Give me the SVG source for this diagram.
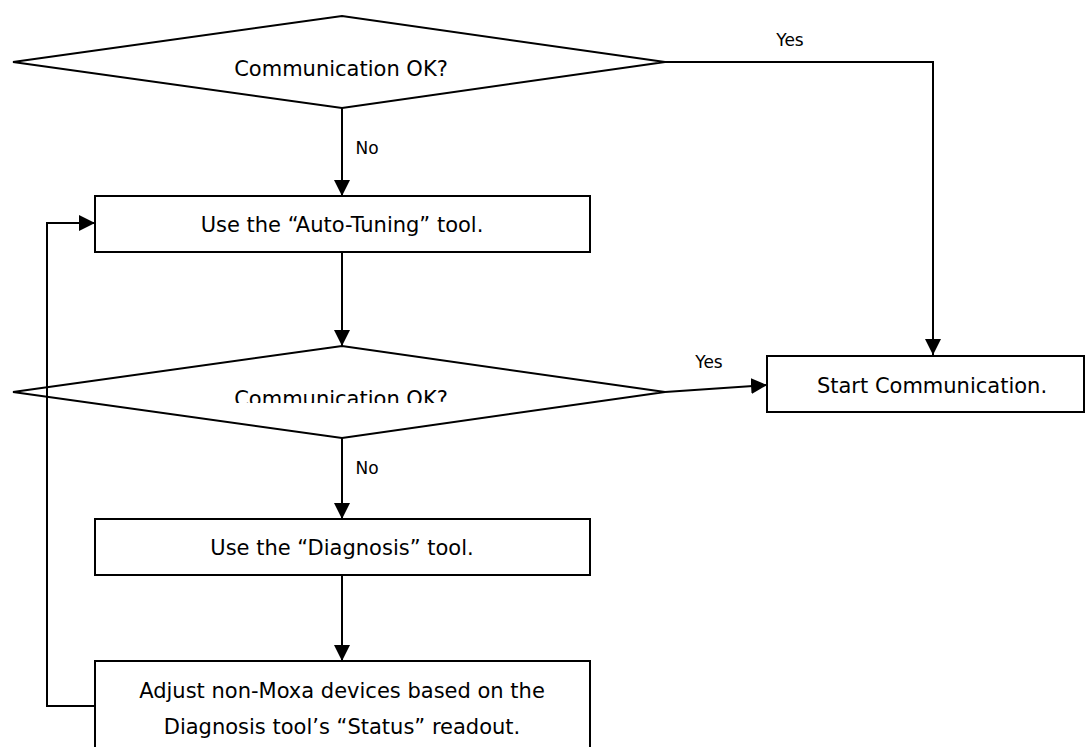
<svg xmlns="http://www.w3.org/2000/svg" width="1087" height="747" viewBox="0 0 1087 747">
<style>
.shape{fill:#fff;stroke:#000;stroke-width:2}
.t{font-family:"DejaVu Sans",Verdana,sans-serif;font-size:21px;fill:#000;text-anchor:middle}
.lbl{font-family:"DejaVu Sans",Verdana,sans-serif;font-size:17px;fill:#000;text-anchor:middle}
.c{fill:none;stroke:#000;stroke-width:2}
</style>
<defs>
<marker id="ah" markerUnits="userSpaceOnUse" markerWidth="16" markerHeight="16" viewBox="0 0 16 16" refX="16" refY="8" orient="auto">
<path d="M0,0 L16,8 L0,16 Z" fill="#000"/>
</marker>
<clipPath id="clipD2"><rect x="0" y="340" width="700" height="63"/></clipPath>
</defs>
<g id="decision1">
<polygon class="shape" points="13,62 342,16 665,62 342,108"/>
<text class="t" x="341" y="76">Communication OK?</text>
</g>
<g id="autotune">
<rect class="shape" x="95" y="196" width="495" height="56"/>
<text class="t" x="342" y="232">Use the “Auto-Tuning” tool.</text>
</g>
<g id="decision2">
<polygon class="shape" points="13,392 342,346 665,392 342,438"/>
<text class="t" x="341" y="406" clip-path="url(#clipD2)">Communication OK?</text>
</g>
<g id="start">
<rect class="shape" x="767" y="356" width="317" height="56"/>
<text class="t" x="932" y="393">Start Communication.</text>
</g>
<g id="diagnosis">
<rect class="shape" x="95" y="519" width="495" height="56"/>
<text class="t" x="342" y="555">Use the “Diagnosis” tool.</text>
</g>
<g id="adjust">
<rect class="shape" x="95" y="661" width="495" height="100"/>
<text class="t" x="342" y="698">Adjust non-Moxa devices based on the</text>
<text class="t" x="342" y="734">Diagnosis tool’s “Status” readout.</text>
</g>
<g id="connectors">
<path class="c" d="M665,62 H933 V355" marker-end="url(#ah)"/>
<path class="c" d="M342,108 V196" marker-end="url(#ah)"/>
<path class="c" d="M342,252 V346" marker-end="url(#ah)"/>
<path class="c" d="M665,392 L767,385" marker-end="url(#ah)"/>
<path class="c" d="M342,438 V519" marker-end="url(#ah)"/>
<path class="c" d="M342,575 V661" marker-end="url(#ah)"/>
<path class="c" d="M95,706 H47 V223 H95" marker-end="url(#ah)"/>
<text class="lbl" x="790" y="46">Yes</text>
<text class="lbl" x="367" y="154">No</text>
<text class="lbl" x="709" y="368">Yes</text>
<text class="lbl" x="367" y="474">No</text>
</g>
</svg>
